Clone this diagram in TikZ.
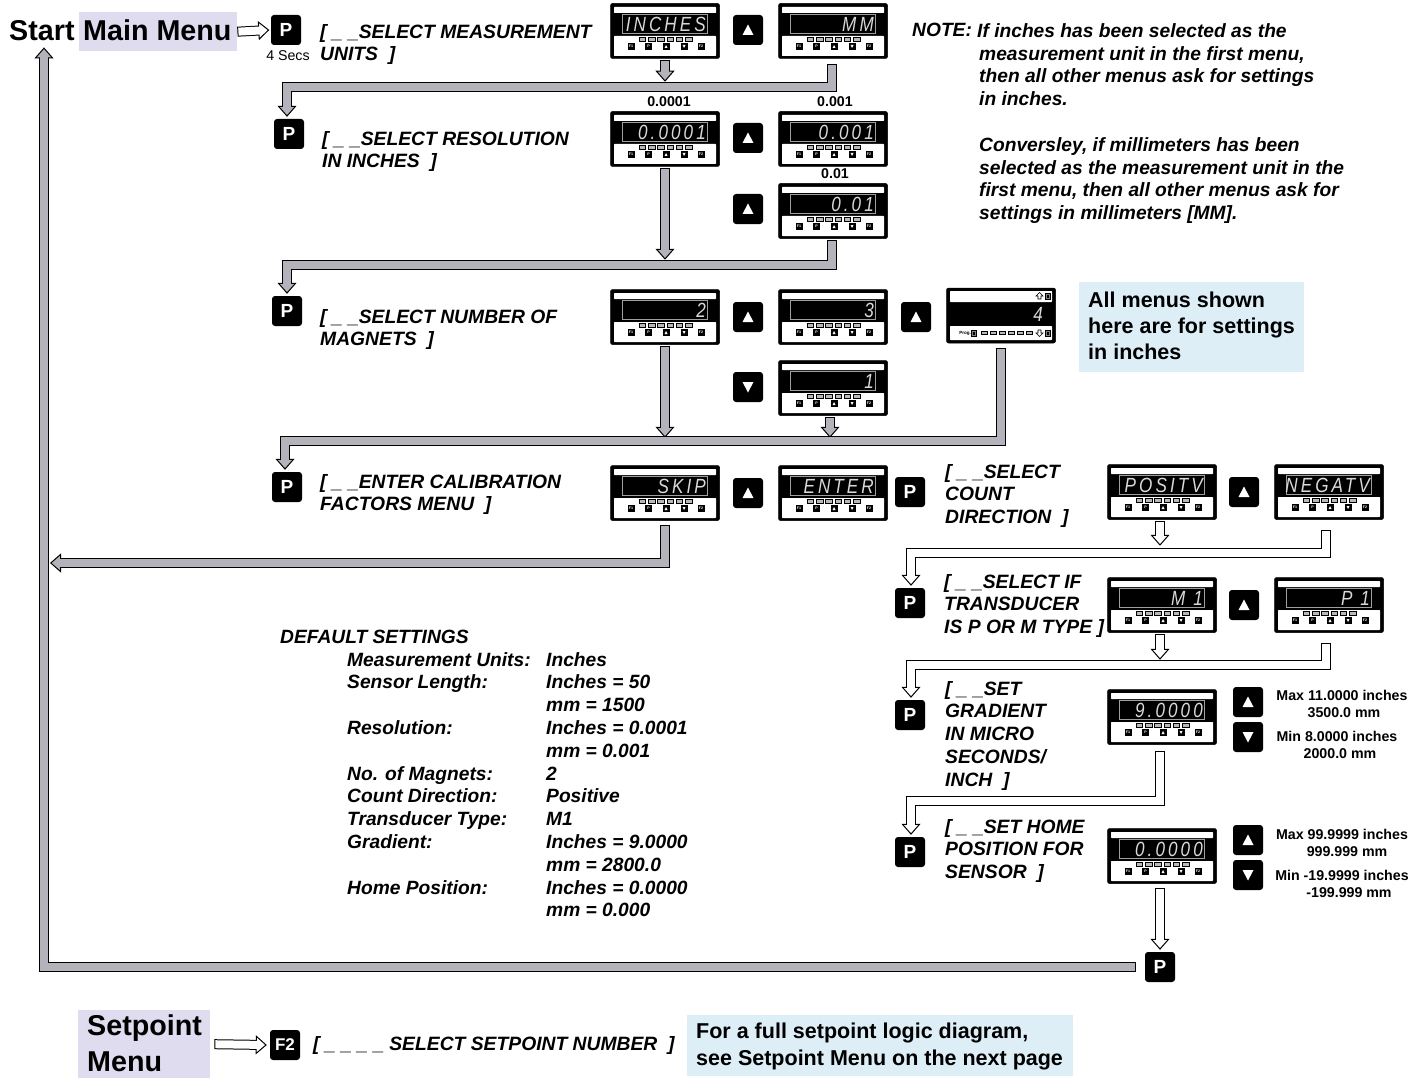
\documentclass[tikz,border=0pt]{standalone}
\usepackage{fontspec}
\usepackage{graphicx}
\setmainfont{Liberation Sans}
\newfontfamily\segfont[LetterSpace=18]{Liberation Sans}
\usetikzlibrary{arrows.meta,calc}
\definecolor{grayc}{HTML}{B4B2BA}
\definecolor{lilac}{HTML}{DEDCEE}
\definecolor{paleblue}{HTML}{DDEEF7}
\tikzset{
  meterbody/.style={draw=black,fill=black,rounded corners=2pt,minimum width=109pt,minimum height=55pt,inner sep=0pt,line width=.5pt},
  badge/.style={fill=black,rounded corners=3pt,minimum width=30pt,minimum height=30pt,inner sep=0pt,text=white,font=\fontsize{19}{19}\selectfont\bfseries},
  btn/.style={fill=black,minimum width=7pt,minimum height=6.5pt,inner sep=0pt,text=white,font=\fontsize{3.6}{3.6}\selectfont\bfseries},
  menutxt/.style={anchor=north west,inner sep=0pt,align=left,font=\fontsize{19.3}{22.8}\selectfont\bfseries\itshape},
  notetxt/.style={anchor=north west,inner sep=0pt,align=left,font=\fontsize{19.2}{22.8}\selectfont\bfseries\itshape},
  infotxt/.style={anchor=north west,inner sep=0pt,align=left,font=\fontsize{21.5}{26}\selectfont\bfseries},
  headtxt/.style={anchor=west,inner sep=0pt,font=\fontsize{28.7}{35}\selectfont\bfseries},
  smalltxt/.style={inner sep=0pt,align=center,font=\fontsize{14.2}{17}\selectfont\bfseries},
  segtxt/.style={anchor=east,inner sep=0pt,text=gray!30!white,font=\fontsize{19}{19}\segfont\itshape}
}
% #1 x, #2 y, #3 name, #4 display text
\newcommand\meterunit[4]{%
\begin{scope}[shift={(#1,#2)}]
  \node[meterbody] (#3) at (55,28) {};
  \fill[white,rounded corners=.7pt] (4,4) rectangle (106,10);
  \fill[white,rounded corners=.7pt] (4,33) rectangle (106,53);
  \draw[gray!75!white,line width=.7pt] (12,11.5) rectangle (97,30);
  \node[segtxt] (#3-d) at (96,21) {\scalebox{.9}[1.08]{#4}};
  \foreach \k in {0,...,5}{\draw[black,fill=gray!55!white,line width=.6pt] ({29+\k*9.3},34.5) rectangle ({35.5+\k*9.3},38);}
  \node[btn] (#3-f1) at (21,43.5) {F1};
  \node[btn] (#3-p) at (38.5,43.5) {P};
  \node[btn] (#3-u) at (56,43.5) {};
  \fill[white] (54.5,45) -- (57.5,45) -- (56,42) -- cycle;
  \node[btn] (#3-n) at (74,43.5) {};
  \fill[white] (72.5,42) -- (75.5,42) -- (74,45) -- cycle;
  \node[btn] (#3-f2) at (91,43.5) {F2};
\end{scope}}
\newcommand\upbadge[3]{\node[badge] (#3) at (#1,#2) {};
  \fill[white] ($(#3)+(-5.5,5)$) -- ($(#3)+(5.5,5)$) -- ($(#3)+(0,-5.5)$) -- cycle;}
\newcommand\downbadge[3]{\node[badge] (#3) at (#1,#2) {};
  \fill[white] ($(#3)+(-5.5,-5)$) -- ($(#3)+(5.5,-5)$) -- ($(#3)+(0,5.5)$) -- cycle;}
% #1 fill, #2 path
\newcommand\blockarrow[2]{%
  \draw[black,line width=10pt,line join=miter,shorten >=9pt] #2;
  \draw[black,line width=.2pt,-{Triangle[length=11pt,width=19pt,fill=#1,color=black,line width=1pt]}] #2;
  \draw[#1,line width=8pt,line join=miter,shorten >=8.5pt,shorten <=1pt] #2;}
\begin{document}
\begin{tikzpicture}[x=1pt,y=-1pt]
\useasboundingbox (0,0) rectangle (1421,1078);
\fill[white] (0,0) rectangle (1421,1078);
% tinted boxes
\node[fill=lilac,minimum width=158pt,minimum height=39pt,inner sep=0pt,anchor=north west] (bgmain) at (79,12) {};
\node[fill=lilac,minimum width=132pt,minimum height=68pt,inner sep=0pt,anchor=north west] (bgset) at (78,1010) {};
\node[fill=paleblue,minimum width=225pt,minimum height=90pt,inner sep=0pt,anchor=north west] (bginfo) at (1079,282) {};
\node[fill=paleblue,minimum width=386pt,minimum height=61pt,inner sep=0pt,anchor=north west] (bgfull) at (687,1015) {};
% headings
\node[headtxt] (start) at (9,30.5) {Start};
\node[headtxt] (mainmenu) at (83,30.5) {Main Menu};
\node[headtxt] (set1) at (87,1028) {Setpoint};
\node[headtxt] (set2) at (87,1062) {Menu};
% meters
\meterunit{610}{3}{inches}{INCHES}
\meterunit{778}{3}{mm}{MM}
\meterunit{610}{111}{ra}{0.0001}
\meterunit{778}{111}{rb}{0.001}
\meterunit{778}{183}{rc}{0.01}
\meterunit{610}{289}{ma}{2}
\meterunit{778}{289}{mb}{3}
\meterunit{778}{360}{mo}{1}
\meterunit{610}{465}{skip}{SKIP}
\meterunit{778}{465}{enter}{ENTER}
\meterunit{1107}{464}{pos}{POSITV}
\meterunit{1274}{464}{neg}{NEGATV}
\meterunit{1107}{577}{mone}{M 1}
\meterunit{1274}{577}{pone}{P 1}
\meterunit{1107}{689}{grad}{9.0000}
\meterunit{1107}{828}{home}{0.0000}
% the different meter
\begin{scope}[shift={(947,288)}]
  \node[meterbody] (mf) at (54,27.5) {};
  \fill[white,rounded corners=.7pt] (3,3) rectangle (105,14);
  \fill[white,rounded corners=.7pt] (3,38) rectangle (105,52);
  \node[segtxt] (mf-d) at (96,26) {\scalebox{.9}[1.08]{4}};
  \draw[black,fill=white,line width=.6pt] (91,11) -- (91,8) -- (89,8) -- (92.5,4.5) -- (96,8) -- (94,8) -- (94,11) -- cycle;
  \draw[black,fill=gray,line width=.5pt] (98,5) rectangle (103,11);
  \fill[black] (99.5,6.5) rectangle (101.5,9.5);
  \node[inner sep=0pt,font=\fontsize{4.5}{4.5}\selectfont\bfseries] (mf-prog) at (18,45) {Prog.};
  \draw[black,fill=gray,line width=.5pt] (24.5,42) rectangle (29.5,48);
  \fill[black] (26,43.5) rectangle (28,46.5);
  \foreach \k in {0,...,5}{\draw[black,fill=gray!55!white,line width=.6pt] ({34+\k*9},43.5) rectangle ({40+\k*9},46.5);}
  \draw[black,fill=white,line width=.6pt] (91,42) -- (91,45) -- (89,45) -- (92.5,48.5) -- (96,45) -- (94,45) -- (94,42) -- cycle;
  \draw[black,fill=gray,line width=.5pt] (98,42) rectangle (103,48);
  \fill[black] (99.5,43.5) rectangle (101.5,46.5);
\end{scope}
% badges
\node[badge] (p1) at (286,30) {P};
\node[badge] (p2) at (289,134) {P};
\node[badge] (p3) at (287,311) {P};
\node[badge] (p4) at (287,487) {P};
\node[badge] (p5) at (910,492) {P};
\node[badge] (p6) at (910,603) {P};
\node[badge] (p7) at (910,715) {P};
\node[badge] (p8) at (910,852) {P};
\node[badge] (p9) at (1160,967) {P};
\node[badge,font=\fontsize{17}{17}\selectfont\bfseries] (f2) at (285,1045) {F2};
\upbadge{748}{30}{u1}
\upbadge{748}{138}{u2}
\upbadge{748}{209}{u3}
\upbadge{748}{317}{u4}
\upbadge{916}{317}{u5}
\downbadge{748}{387}{d1}
\upbadge{748}{493}{u6}
\upbadge{1244}{492}{u7}
\upbadge{1244}{605}{u8}
\upbadge{1248}{702}{u9}
\downbadge{1248}{737}{d2}
\upbadge{1248}{840}{u10}
\downbadge{1248}{875}{d3}
% junctions
\coordinate (j1) at (287,87);
\coordinate (j2) at (287,265);
\coordinate (j3) at (285,441);
\coordinate (j4) at (50,563);
\coordinate (j5) at (44,967);
\coordinate (j6) at (911,553);
\coordinate (j7) at (911,665);
\coordinate (j8) at (911,801);
% grey connectors
\blockarrow{grayc}{([yshift=-1pt]inches.south) -- ([yshift=-23pt]inches.south)}
\blockarrow{grayc}{([yshift=-5pt,xshift=-1pt]mm.south) |- (j1) -- ([yshift=2pt]j1 |- p2.north)}
\blockarrow{grayc}{([yshift=-1pt]ra.south) -- ([yshift=-93pt]ra.south)}
\blockarrow{grayc}{([yshift=-1pt,xshift=-1pt]rc.south) |- (j2) -- ([yshift=2pt]j2 |- p3.north)}
\blockarrow{grayc}{([yshift=-1pt]ma.south) -- ([yshift=-93pt]ma.south)}
\blockarrow{grayc}{([yshift=-1pt,xshift=-3pt]mo.south) -- ([yshift=-22pt,xshift=-3pt]mo.south)}
\blockarrow{grayc}{([yshift=-5pt]mf.south) |- (j3) -- ([yshift=2pt]j3 |- p4.north)}
\blockarrow{grayc}{([yshift=-4pt]skip.south) |- (j4)}
\blockarrow{grayc}{([xshift=-9pt]p9.west) -- (j5) -- ([yshift=4pt]j5 |- bgmain.south)}
% white connectors
\blockarrow{white}{(bgmain.east) -- ([xshift=-1.5pt]p1.west)}
\blockarrow{white}{([yshift=-1pt,xshift=-2pt]pos.south) -- ([yshift=-26pt,xshift=-2pt]pos.south)}
\blockarrow{white}{([yshift=-10pt,xshift=-3pt]neg.south) |- (j6) -- ([yshift=2pt]j6 |- p6.north)}
\blockarrow{white}{([yshift=-1pt,xshift=-2pt]mone.south) -- ([yshift=-27pt,xshift=-2pt]mone.south)}
\blockarrow{white}{([yshift=-10pt,xshift=-3pt]pone.south) |- (j7) -- ([yshift=2pt]j7 |- p7.north)}
\blockarrow{white}{([yshift=-6pt,xshift=-2pt]grad.south) |- (j8) -- ([yshift=2pt]j8 |- p8.north)}
\blockarrow{white}{([yshift=-4pt,xshift=-2pt]home.south) -- ([yshift=2pt,xshift=-2pt]home.south |- p9.north)}
\blockarrow{white}{([xshift=4pt]bgset.east) -- ([xshift=-3pt]f2.west)}
% menu texts
\node[menutxt] (t1) at (320,24) {[ \_ \_SELECT MEASUREMENT\\UNITS\ \ ]};
\node[menutxt] (t2) at (322,131) {[ \_ \_SELECT RESOLUTION\\IN INCHES\ \ ]};
\node[menutxt] (t3) at (320,309) {[ \_ \_SELECT NUMBER OF\\MAGNETS\ \ ]};
\node[menutxt] (t4) at (320,474) {[ \_ \_ENTER CALIBRATION\\FACTORS MENU\ \ ]};
\node[menutxt] (t5) at (945,464) {[ \_ \_SELECT\\COUNT\\DIRECTION\ \ ]};
\node[menutxt] (t6) at (944,574) {[ \_ \_SELECT IF\\TRANSDUCER\\IS P OR M TYPE ]};
\node[menutxt] (t7) at (945,681) {[ \_ \_SET\\GRADIENT\\IN MICRO\\SECONDS/\\INCH\ \ ]};
\node[menutxt] (t8) at (945,819) {[ \_ \_SET HOME\\POSITION FOR\\SENSOR\ \ ]};
\node[menutxt] (t9) at (313,1036) {[ \_ \_ \_ \_ SELECT SETPOINT NUMBER\ \ ]};
% note
\node[notetxt] (note) at (912,23) {NOTE:};
\node[notetxt] (note1) at (977,23) {If inches has been selected as the};
\node[notetxt] (note2) at (979,46) {measurement unit in the first menu,\\then all other menus ask for settings\\in inches.\\[22.8pt]Conversley, if millimeters has been\\selected as the measurement unit in the\\first menu, then all other menus ask for\\settings in millimeters [MM].};
% info
\node[infotxt] (info) at (1088,292) {All menus shown\\here are for settings\\in inches};
\node[anchor=north west,inner sep=0pt,align=left,font=\fontsize{21.5}{27}\selectfont\bfseries] (full) at (696,1023) {For a full setpoint logic diagram,\\see Setpoint Menu on the next page};
% default settings
\node[notetxt] (dflt) at (280,630) {DEFAULT SETTINGS};
\node[notetxt] (dfa) at (347,652) {Measurement Units:\\Sensor Length:\\ \\Resolution:\\ \\No. of Magnets:\\Count Direction:\\Transducer Type:\\Gradient:\\ \\Home Position:};
\node[notetxt] (dfb) at (546,652) {Inches\\Inches = 50\\mm = 1500\\Inches = 0.0001\\mm = 0.001\\2\\Positive\\M1\\Inches = 9.0000\\mm = 2800.0\\Inches = 0.0000\\mm = 0.000};
% small labels
\node[inner sep=0pt,font=\fontsize{14.2}{14.2}\selectfont] (secs) at (288,56) {4 Secs};
\node[smalltxt] (l1) at (669,102) {0.0001};
\node[smalltxt] (l2) at (835,102) {0.001};
\node[smalltxt] (l3) at (835,174) {0.01};
\node[smalltxt] (r1) at (1342,703.5) {Max 11.0000 inches\\\hspace*{4pt}3500.0 mm};
\node[smalltxt] (r2) at (1337,744.5) {Min 8.0000 inches\\\hspace*{6pt}2000.0 mm};
\node[smalltxt] (r3) at (1342,842.5) {Max 99.9999 inches\\\hspace*{10pt}999.999 mm};
\node[smalltxt] (r4) at (1342,883.5) {Min -19.9999 inches\\\hspace*{14pt}-199.999 mm};
\end{tikzpicture}
\end{document}
